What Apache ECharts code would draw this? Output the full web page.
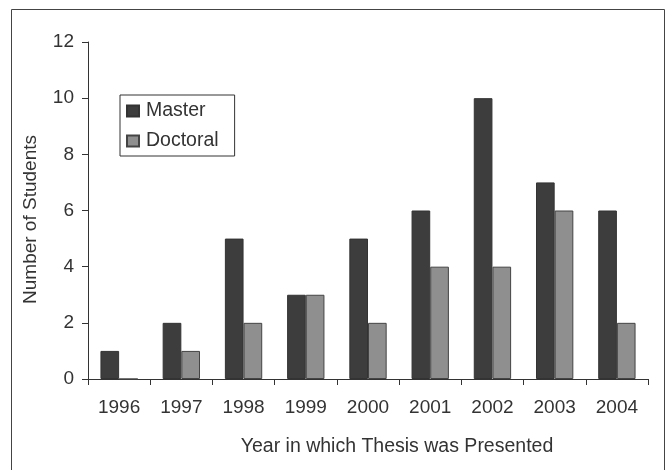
<!DOCTYPE html>
<html>
<head>
<meta charset="utf-8">
<script src="https://cdn.jsdelivr.net/npm/echarts@6/dist/echarts.min.js"></script>
<style>
  html, body { margin: 0; padding: 0; background: #fff; }
  #main { width: 671px; height: 470px; }
</style>
</head>
<body>
<div id="main"></div>
<script>
// data
var years = ['1996', '1997', '1998', '1999', '2000', '2001', '2002', '2003', '2004'];
var master = [1, 2, 5, 3, 5, 6, 10, 7, 6];
var doctoral = [0, 1, 2, 3, 2, 4, 4, 6, 2];

var myChart = echarts.init(document.getElementById('main'));
var font = 'Liberation Sans, Arial, sans-serif';

var option = {
    animation: false,
    textStyle: { fontFamily: font },
    graphic: [
        {
            type: 'rect',
            shape: { x: 11.5, y: 9.5, width: 653, height: 470 },
            style: { fill: 'none', stroke: '#444', lineWidth: 1 }
        }
    ],
    grid: { left: 88, right: 23, top: 42, bottom: 91 },
    legend: {
        data: ['Master', 'Doctoral'],
        orient: 'vertical',
        left: 120,
        top: 95,
        padding: [6, 16, 5, 6],
        icon: 'rect',
        itemWidth: 12,
        itemHeight: 11,
        itemGap: 10,
        borderColor: '#333',
        borderWidth: 1,
        textStyle: { fontSize: 19.5, color: '#333', fontFamily: font, lineHeight: 19, padding: [0, 0, 0, 2] }
    },
    xAxis: {
        type: 'category',
        data: years,
        name: 'Year in which Thesis was Presented',
        nameLocation: 'middle',
        nameGap: 58,
        nameTextStyle: { fontSize: 19.5, color: '#333', padding: [0, 0, 0, 58] },
        axisLine: { lineStyle: { color: '#333' } },
        axisTick: { show: true, length: 6, lineStyle: { color: '#333' } },
        axisLabel: { fontSize: 19, color: '#333', margin: 19 }
    },
    yAxis: {
        type: 'value',
        min: 0,
        max: 12,
        interval: 2,
        name: 'Number of Students',
        nameLocation: 'middle',
        nameGap: 48,
        nameTextStyle: { fontSize: 19, color: '#333', padding: [0, 18, 0, 0] },
        axisLine: { show: true, lineStyle: { color: '#333' } },
        axisTick: { show: true, length: 6, lineStyle: { color: '#333' } },
        axisLabel: { fontSize: 19, color: '#333', margin: 14 },
        splitLine: { show: false }
    },
    series: [
        {
            name: 'Master',
            type: 'bar',
            data: master,
            barGap: '0%',
            barCategoryGap: '40%',
            itemStyle: { color: '#3d3d3d', borderColor: '#333', borderWidth: 1 }
        },
        {
            name: 'Doctoral',
            type: 'bar',
            data: doctoral,
            itemStyle: { color: '#8f8f8f', borderColor: '#444', borderWidth: 1 }
        }
    ]
};
myChart.setOption(option);
</script>
</body>
</html>
